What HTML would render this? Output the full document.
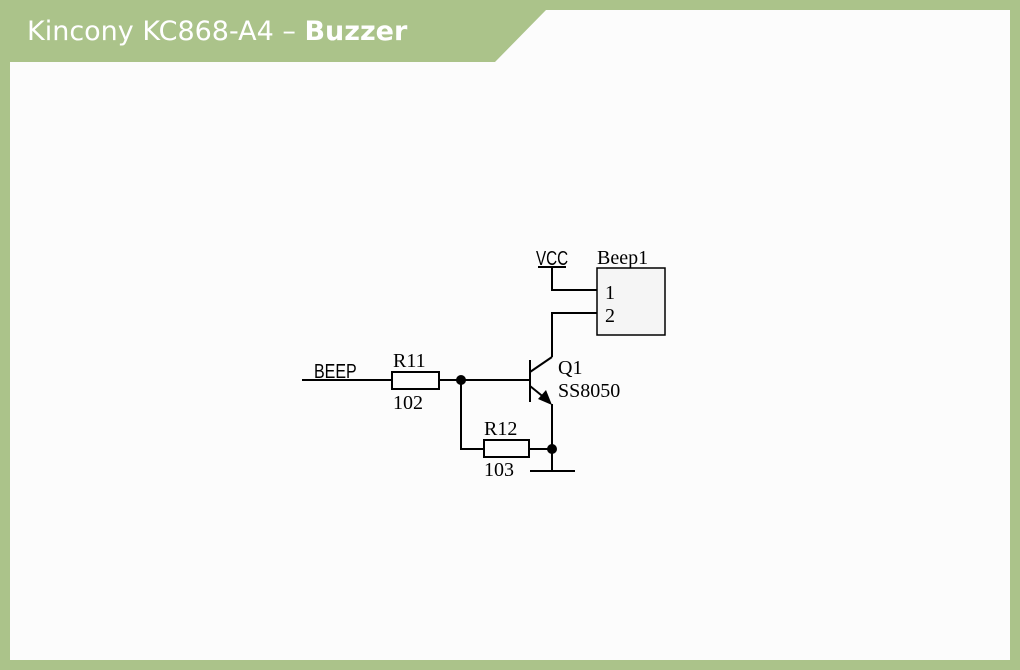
<!DOCTYPE html>
<html><head><meta charset="utf-8"><style>
html,body{margin:0;padding:0;}
body{width:1020px;height:670px;background:#abc38a;position:relative;overflow:hidden;}
</style></head><body>
<svg width="1020" height="670" xmlns="http://www.w3.org/2000/svg" style="position:absolute;left:0;top:0">
<rect x="0" y="0" width="1020" height="670" fill="#abc38a"/>
<polygon points="546,10 1010,10 1010,660 10,660 10,62 495,62" fill="#fcfcfc"/>
<text x="27" y="40" font-family="DejaVu Sans, sans-serif" font-size="27" fill="#ffffff">Kincony KC868-A4 – <tspan font-weight="bold">Buzzer</tspan></text>
<g stroke="#000" stroke-width="2" fill="none">
<line x1="302" y1="380" x2="392" y2="380"/>
<rect x="392" y="372" width="47" height="17" fill="#fcfcfc"/>
<line x1="439" y1="380" x2="530" y2="380"/>
<line x1="530" y1="360" x2="530" y2="402"/>
<line x1="530" y1="372" x2="552" y2="357"/>
<polyline points="552,357 552,313 597,313"/>
<line x1="530" y1="386" x2="546" y2="399"/>
<polyline points="552,404 552,471"/>
<line x1="530" y1="471" x2="575" y2="471"/>
<polyline points="461,380 461,449 484,449"/>
<rect x="484" y="440" width="45" height="17" fill="#fcfcfc"/>
<line x1="529" y1="449" x2="552" y2="449"/>
<line x1="538" y1="267" x2="566" y2="267"/>
<polyline points="552,267 552,290 597,290"/>
<rect x="597" y="268" width="68" height="67" fill="#f5f5f5" stroke-width="1.5"/>
</g>
<polygon points="552,405 538,399 546,390" fill="#000"/>
<circle cx="461" cy="380" r="5" fill="#000"/>
<circle cx="552" cy="449" r="5" fill="#000"/>
<g font-family="Liberation Serif, serif" font-size="20" fill="#000">
<text x="393" y="367">R11</text>
<text x="393" y="409">102</text>
<text x="484" y="435">R12</text>
<text x="484" y="476">103</text>
<text x="558" y="374">Q1</text>
<text x="558" y="397">SS8050</text>
<text x="597" y="264">Beep1</text>
<text x="605" y="299">1</text>
<text x="605" y="322">2</text>
</g>
<g font-family="Liberation Sans, sans-serif" font-size="16" fill="#000">
<text transform="translate(314,378) scale(1,1.25)">BEEP</text>
<text transform="translate(536,265) scale(0.95,1.25)">VCC</text>
</g>
</svg>
</body></html>
